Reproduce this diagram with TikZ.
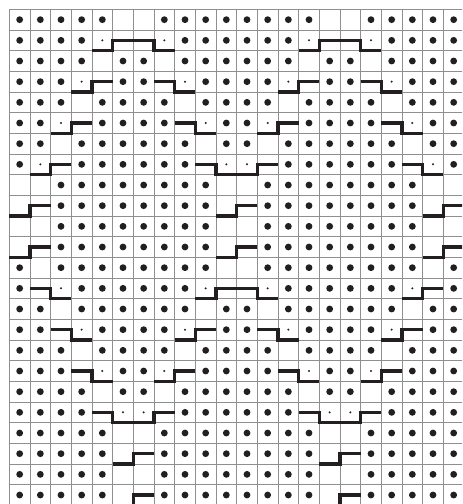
\documentclass[tikz,border=0pt]{standalone}
\definecolor{gridgray}{HTML}{8F8F8F}
\definecolor{ink}{HTML}{231F20}
\begin{document}
\begin{tikzpicture}[x=0.5cm,y=-0.5cm,
  gridline/.style={draw=gridgray,line width=0.6pt},
  bigdot/.style={fill=ink},
  smalldot/.style={fill=ink},
  chartline/.style={draw=ink,line width=2.4pt,line join=miter,line cap=butt}]
\useasboundingbox (-0.4516,-0.4516) rectangle (21.903,23.935);
\clip (-0.4516,-0.4516) rectangle (21.903,23.935);
\fill[white] (-0.4516,-0.4516) rectangle (21.903,23.935);
% grid
\foreach \i in {0,...,22} \draw[gridline] (\i,0) -- (\i,24.5);
\foreach \j in {0,...,24} \draw[gridline] (0,\j) -- (22.5,\j);
% big dots
\foreach \r/\cols in {
 0/{0,1,2,3,4,7,8,9,10,11,12,13,14,17,18,19,20,21},
 1/{0,1,2,3,8,9,10,11,12,13,18,19,20,21},
 2/{0,1,2,3,5,6,8,9,10,11,12,13,15,16,18,19,20,21},
 3/{0,1,2,5,6,9,10,11,12,15,16,19,20,21},
 4/{0,1,2,4,5,6,7,9,10,11,12,14,15,16,17,19,20,21},
 5/{0,1,4,5,6,7,10,11,14,15,16,17,20,21},
 6/{0,1,3,4,5,6,7,8,10,11,13,14,15,16,17,18,20,21},
 7/{0,3,4,5,6,7,8,13,14,15,16,17,18,21},
 8/{2,3,4,5,6,7,8,9,12,13,14,15,16,17,18,19},
 9/{2,3,4,5,6,7,8,9,12,13,14,15,16,17,18,19},
 10/{2,3,4,5,6,7,8,9,12,13,14,15,16,17,18,19},
 11/{2,3,4,5,6,7,8,9,12,13,14,15,16,17,18,19},
 12/{0,2,3,4,5,6,7,8,9,12,13,14,15,16,17,18,19,21},
 13/{0,3,4,5,6,7,8,13,14,15,16,17,18,21},
 14/{0,1,3,4,5,6,7,8,10,11,13,14,15,16,17,18,20,21},
 15/{0,1,4,5,6,7,10,11,14,15,16,17,20,21},
 16/{0,1,2,4,5,6,7,9,10,11,12,14,15,16,17,19,20,21},
 17/{0,1,2,5,6,9,10,11,12,15,16,19,20,21},
 18/{0,1,2,3,5,6,8,9,10,11,12,13,15,16,18,19,20,21},
 19/{0,1,2,3,8,9,10,11,12,13,18,19,20,21},
 20/{0,1,2,3,4,7,8,9,10,11,12,13,14,17,18,19,20,21},
 21/{0,1,2,3,4,7,8,9,10,11,12,13,14,17,18,19,20,21},
 22/{0,1,2,3,4,7,8,9,10,11,12,13,14,17,18,19,20,21},
 23/{0,1,2,3,4,7,8,9,10,11,12,13,14,17,18,19,20,21}}
 { \foreach \c in \cols { \fill[bigdot] (\c+0.5,\r+0.5) circle[radius=0.165]; } }
% small dots
\foreach \r/\cols in {
 1/{4,7,14,17}, 3/{3,8,13,18}, 5/{2,9,12,19}, 7/{1,10,11,20},
 13/{2,9,12,19}, 15/{3,8,13,18}, 17/{4,7,14,17}, 19/{5,6,15,16}}
 { \foreach \c in \cols { \fill[smalldot] (\c+0.5,\r+0.5) circle[radius=0.055]; } }
% chart lines repeated with period 10
\foreach \dx in {0,10}{
 \begin{scope}[shift={(\dx,0)}]
 \draw[chartline] (4,2) -- (5,2) -- (5,1.5) -- (7,1.5) -- (7,2) -- (8,2);
 \draw[chartline] (3,4) -- (4,4) -- (4,3.5) -- (5,3.5);
 \draw[chartline] (7,3.5) -- (8,3.5) -- (8,4) -- (9,4);
 \draw[chartline] (2,6) -- (3,6) -- (3,5.5) -- (4,5.5);
 \draw[chartline] (8,5.5) -- (9,5.5) -- (9,6) -- (10,6);
 \draw[chartline] (2,15.5) -- (3,15.5) -- (3,16) -- (4,16);
 \draw[chartline] (8,16) -- (9,16) -- (9,15.5) -- (10,15.5);
 \draw[chartline] (3,17.5) -- (4,17.5) -- (4,18) -- (5,18);
 \draw[chartline] (7,18) -- (8,18) -- (8,17.5) -- (9,17.5);
 \draw[chartline] (4,19.5) -- (5,19.5) -- (5,20) -- (7,20) -- (7,19.5) -- (8,19.5);
 \draw[chartline] (5,22) -- (6,22) -- (6,21.5) -- (7,21.5);
 \draw[chartline] (5,24) -- (6,24) -- (6,23.5) -- (7,23.5);
 \end{scope}
}
\foreach \dx in {0,10,20}{
 \begin{scope}[shift={(\dx,0)}]
 \draw[chartline] (0,10) -- (1,10) -- (1,9.5) -- (2,9.5);
 \draw[chartline] (0,12) -- (1,12) -- (1,11.5) -- (2,11.5);
 \end{scope}
}
\draw[chartline] (1,8) -- (2,8) -- (2,7.5) -- (3,7.5);
\draw[chartline] (9,7.5) -- (10,7.5) -- (10,8) -- (12,8) -- (12,7.5) -- (13,7.5);
\draw[chartline] (19,7.5) -- (20,7.5) -- (20,8) -- (21,8);
\draw[chartline] (1,13.5) -- (2,13.5) -- (2,14) -- (3,14);
\draw[chartline] (9,14) -- (10,14) -- (10,13.5) -- (12,13.5) -- (12,14) -- (13,14);
\draw[chartline] (19,14) -- (20,14) -- (20,13.5) -- (21,13.5);
\end{tikzpicture}
\end{document}
